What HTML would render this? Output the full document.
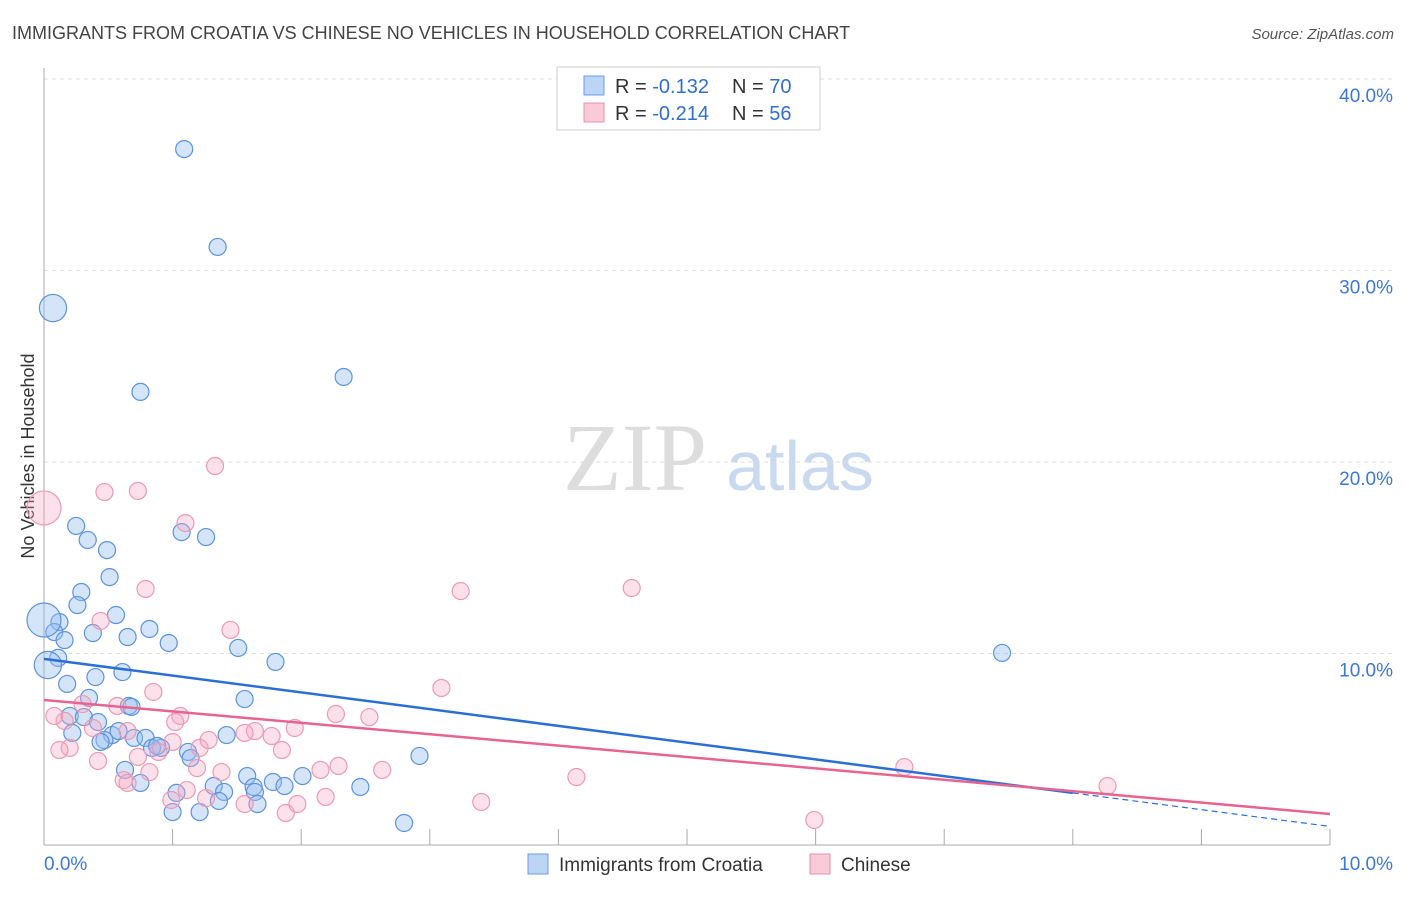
<!DOCTYPE html>
<html><head><meta charset="utf-8"><style>
body{margin:0;background:#fff;font-family:"Liberation Sans",sans-serif}
</style></head><body>
<svg id="chart" width="1406" height="892" xmlns="http://www.w3.org/2000/svg" font-family="Liberation Sans, sans-serif">
<text x="12" y="39" font-size="18" fill="#444">IMMIGRANTS FROM CROATIA VS CHINESE NO VEHICLES IN HOUSEHOLD CORRELATION CHART</text>
<text x="1394" y="39" font-size="15" fill="#555" text-anchor="end" font-style="italic">Source: ZipAtlas.com</text>
<text transform="translate(34,456) rotate(-90)" font-size="18" fill="#333" text-anchor="middle">No Vehicles in Household</text>
<g>
<text x="635" y="490" font-size="96" fill="#ddd" font-family="Liberation Serif, serif" text-anchor="middle">ZIP</text>
<text x="800" y="490" font-size="70" fill="#c9d9f0" text-anchor="middle">atlas</text>
</g>
<g id="grid"></g><g id="axes"></g><g id="pts"></g><g id="trend"></g>
<g>
<rect x="557" y="67" width="263" height="63" fill="#fff" stroke="#ccc"/>
<rect x="584" y="76" width="20" height="19" fill="#bcd5f5" stroke="#6a9de0"/>
<rect x="584" y="103" width="20" height="19" fill="#f9cad8" stroke="#e890ab"/>
<text x="615" y="93" font-size="20" fill="#333">R = <tspan fill="#2f6fd1">-0.132</tspan></text>
<text x="732" y="93" font-size="20" fill="#333">N = <tspan fill="#2f6fd1">70</tspan></text>
<text x="615" y="120" font-size="20" fill="#333">R = <tspan fill="#2f6fd1">-0.214</tspan></text>
<text x="732" y="120" font-size="20" fill="#333">N = <tspan fill="#2f6fd1">56</tspan></text>
</g>
<g>
<rect x="528" y="854" width="20" height="20" fill="#bcd5f5" stroke="#6a9de0"/>
<text x="559" y="871" font-size="19" fill="#333">Immigrants from Croatia</text>
<rect x="810" y="854" width="20" height="20" fill="#f9cad8" stroke="#e890ab"/>
<text x="841" y="871" font-size="19" fill="#333">Chinese</text>
</g>
</svg>
<script>
const yTicks=[10,20,30,40];
const yTickLabels=["10.0%","20.0%","30.0%","40.0%"];
const xTickLabels=["0.0%","10.0%"];
const blueX=[1.09,1.35,0.07,0.75,2.33,1.07,1.26,0.25,0.34,0.49,0.51,0.29,0.26,0.56,0.12,0.08,0.38,0.65,0.82,0.16,0.97,1.51,1.80,7.45,0.11,0.03,0.61,0.40,0.18,0.35,1.56,0.66,0.68,0.20,0.31,0.42,0.22,0.53,0.58,1.42,0.47,0.44,0.70,0.79,0.91,0.84,0.88,1.12,1.14,2.92,0.63,1.58,2.01,1.78,1.32,1.63,1.87,0.75,1.03,1.40,1.64,2.46,1.36,1.66,1.00,1.21,2.80,0.00];
const blueY=[36.34,31.23,28.04,23.66,24.44,16.34,16.08,16.66,15.93,15.40,13.99,13.21,12.53,12.01,11.64,11.12,11.07,10.86,11.28,10.70,10.55,10.29,9.56,10.03,9.77,9.40,9.03,8.77,8.41,7.68,7.62,7.26,7.21,6.74,6.68,6.42,5.85,5.74,5.95,5.74,5.48,5.38,5.59,5.59,5.07,5.07,5.17,4.86,4.54,4.65,3.92,3.60,3.60,3.29,3.08,3.03,3.08,3.24,2.72,2.77,2.77,3.03,2.30,2.14,1.72,1.72,1.15,11.75];
const blueSize=[1,1,1.6,1,1,1,1,1,1,1,1,1,1,1,1,1,1,1,1,1,1,1,1,1,1,1.6,1,1,1,1,1,1,1,1,1,1,1,1,1,1,1,1,1,1,1,1,1,1,1,1,1,1,1,1,1,1,1,1,1,1,1,1,1,1,1,1,1,2];
const pinkX=[1.33,0.47,0.73,1.10,0.00,0.79,3.24,4.57,0.44,1.45,3.09,0.85,0.30,0.57,1.06,1.02,0.16,0.08,0.38,2.53,2.27,1.64,1.56,1.77,1.95,0.65,1.21,1.85,0.20,0.12,0.89,0.73,0.42,2.29,2.15,2.63,1.19,1.38,4.14,6.69,8.27,0.82,0.62,0.65,1.11,1.26,2.19,0.99,1.56,1.97,1.88,3.40,5.99,1.00,1.28];
const pinkY=[19.79,18.43,18.49,16.81,17.60,13.37,13.26,13.42,11.70,11.23,8.20,7.99,7.36,7.26,6.74,6.42,6.48,6.74,6.11,6.68,6.84,5.95,5.85,5.69,6.11,5.95,5.07,4.96,5.07,4.96,4.86,4.60,4.39,4.13,3.92,3.92,4.02,3.81,3.55,4.07,3.08,3.81,3.39,3.24,2.87,2.45,2.51,2.35,2.14,2.14,1.67,2.25,1.31,5.38,5.48];
const pinkSize=[1,1,1,1,2,1,1,1,1,1,1,1,1,1,1,1,1,1,1,1,1,1,1,1,1,1,1,1,1,1,1,1,1,1,1,1,1,1,1,1,1,1,1,1,1,1,1,1,1,1,1,1,1,1,1];
const blueTrend=[9.72,0.97];
const pinkTrend=[7.57,1.62];
const NS="http://www.w3.org/2000/svg";
const X=v=>44+v*128.6, Y=v=>845-v*19.15;
function mk(t,a,p){const e=document.createElementNS(NS,t);for(const k in a)e.setAttribute(k,a[k]);p.appendChild(e);return e;}
const g=document.getElementById('grid'),ax=document.getElementById('axes'),pts=document.getElementById('pts'),tr=document.getElementById('trend');
yTicks.forEach((v,i)=>{
 const l=mk('line',{x1:44,x2:1394,y1:Y(v),y2:Y(v),stroke:'#ddd','stroke-dasharray':'4,4'},g);
 
 
 const t=mk('text',{x:1393,y:Y(v)+23,'font-size':19,fill:'#3b78d8','text-anchor':'end'},ax);
 t.textContent=yTickLabels[i];
 
 
});
const topLine=mk('line',{x1:44,x2:1394,y1:79,y2:79,stroke:'#ddd','stroke-dasharray':'4,4'},g);


const yax=mk('line',{x1:44,x2:44,y1:68,y2:845,stroke:'#aaa'},ax);


const xax=mk('line',{x1:44,x2:1330,y1:845,y2:845,stroke:'#aaa'},ax);


for(let i=1;i<=10;i++){const t=mk('line',{x1:X(i),x2:X(i),y1:829,y2:845,stroke:'#aaa'},ax);
 
 }
[[0,'start',44],[1,'end',1393]].forEach(([i,a,x])=>{const t=mk('text',{x:x,y:870,'font-size':19,fill:'#3b78d8','text-anchor':a},ax);t.textContent=xTickLabels[i];
 
 });
function dots(xs,ys,ss,fill,stroke,name){xs.forEach((x,i)=>{const c=mk('circle',{cx:X(x),cy:Y(ys[i]),r:8.5*ss[i],fill:fill,stroke:stroke,'stroke-width':1.2},pts);
 
 });}
dots(blueX,blueY,blueSize,'rgba(150,190,240,0.4)','#5d93dc','croatia-point');
dots(pinkX,pinkY,pinkSize,'rgba(246,170,195,0.35)','#ec9ab4','chinese-point');
const b8=blueTrend[0]+(blueTrend[1]-blueTrend[0])*0.8;
const bl=mk('line',{x1:X(0),y1:Y(blueTrend[0]),x2:X(8),y2:Y(b8),stroke:'#2b6fd6','stroke-width':2.5},tr);


const bd=mk('line',{x1:X(8),y1:Y(b8),x2:X(10),y2:Y(blueTrend[1]),stroke:'#2b6fd6','stroke-width':1.2,'stroke-dasharray':'6,4'},tr);


const pl=mk('line',{x1:X(0),y1:Y(pinkTrend[0]),x2:X(10),y2:Y(pinkTrend[1]),stroke:'#e6648f','stroke-width':2.5},tr);


</script>
</body></html>
